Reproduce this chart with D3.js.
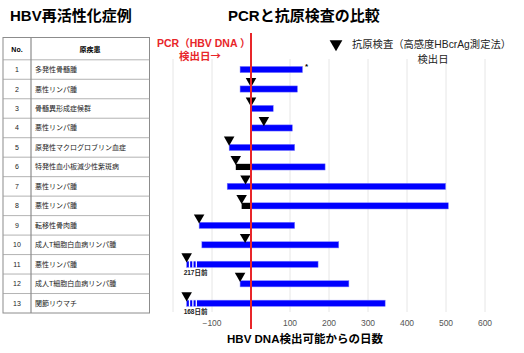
<!DOCTYPE html>
<html>
<head>
<meta charset="utf-8">
<script src="https://cdn.jsdelivr.net/npm/d3@7"></script>
<style>
body { margin: 0; background: #fff; }
svg { font-family: "Liberation Sans", "Noto Sans CJK JP", "Noto Sans", sans-serif; }
</style>
</head>
<body>
<div class="chart"></div>
<script>

var width = 524, height = 353;

// table
var caseNo = [1, 2, 3, 4, 5, 6, 7, 8, 9, 10, 11, 12, 13];
var disease = ["多発性骨髄腫", "悪性リンパ腫", "骨髄異形成症候群", "悪性リンパ腫",
	"原発性マクログロブリン血症", "特発性血小板減少性紫斑病", "悪性リンパ腫", "悪性リンパ腫",
	"転移性骨肉腫", "成人T細胞白血病リンパ腫", "悪性リンパ腫", "成人T細胞白血病リンパ腫", "関節リウマチ"];

// days from HBV DNA detection
var barStart = [-28, -28, 0, 0, -56, 0, -61, 0, -133, -126, -139, -28, -139];
var barEnd = [132, 119, 57, 106, 112, 190, 499, 506, 112, 225, 172, 251, 344];
var blackStart = [null, null, null, null, null, -39, null, -24, null, null, null, null, null];
var antigenDay = [null, 0, 0, 33, -56, -39, -14, -24, -133, -15, -165, -28, -165];
var brokenStart = [null, null, null, null, null, null, null, null, null, null, -165, null, -165];
var brokenLabel = [null, null, null, null, null, null, null, null, null, null, "217日前", null, "168日前"];

var gridTicks = [-200, -100, 0, 100, 200, 300, 400, 500, 600];
var labelTicks = [-100, 100, 200, 300, 400, 500, 600];

var svg = d3.select(".chart")
	.append("svg")
	.attr("width", width)
	.attr("height", height);

var x = d3.scaleLinear()
	.domain([-200, 600])
	.range([173, 485]);

var y = d3.scaleBand()
	.domain(caseNo)
	.range([59.8, 313])
	.paddingInner(0)
	.paddingOuter(0);

// titles
svg.append("text")
	.attr("x", 10).attr("y", 21)
	.style("font-size", "15px").style("font-weight", "bold")
	.text("HBV再活性化症例");

svg.append("text")
	.attr("x", 228).attr("y", 21)
	.style("font-size", "15px").style("font-weight", "bold")
	.text("PCRと抗原検査の比較");

// table
var tbl = svg.append("g");
tbl.append("rect")
	.attr("x", 3).attr("y", 37.5)
	.attr("width", 146.5).attr("height", 313 - 37.5)
	.attr("fill", "#fff").attr("stroke", "#8c8c8c").attr("stroke-width", 1);

tbl.selectAll(".hline")
	.data(caseNo)
	.enter()
	.append("line")
	.attr("x1", 3).attr("x2", 149.5)
	.attr("y1", function(d) { return y(d); })
	.attr("y2", function(d) { return y(d); })
	.attr("stroke", "#a0a0a0").attr("stroke-width", 0.8);

tbl.append("line")
	.attr("x1", 31).attr("x2", 31)
	.attr("y1", 37.5).attr("y2", 313)
	.attr("stroke", "#8c8c8c").attr("stroke-width", 1.2);

tbl.append("text")
	.attr("x", 17).attr("y", 51.5)
	.attr("text-anchor", "middle")
	.style("font-size", "7px").style("font-weight", "bold")
	.text("No.");

tbl.append("text")
	.attr("x", 90).attr("y", 51.5)
	.attr("text-anchor", "middle")
	.style("font-size", "7px").style("font-weight", "bold")
	.text("原疾患");

tbl.selectAll(".no")
	.data(caseNo)
	.enter()
	.append("text")
	.attr("x", 17)
	.attr("y", function(d) { return y(d) + y.bandwidth() / 2 + 2.5; })
	.attr("text-anchor", "middle")
	.style("font-size", "7px").attr("fill", "#222")
	.text(function(d) { return d; });

tbl.selectAll(".dis")
	.data(disease)
	.enter()
	.append("text")
	.attr("x", 35)
	.attr("y", function(d, i) { return y(caseNo[i]) + y.bandwidth() / 2 + 2.5; })
	.style("font-size", "7px").attr("fill", "#222")
	.text(function(d) { return d; });

// grid
svg.selectAll(".grid")
	.data(gridTicks)
	.enter()
	.append("line")
	.attr("x1", function(d) { return x(d); })
	.attr("x2", function(d) { return x(d); })
	.attr("y1", 59).attr("y2", 312)
	.attr("stroke", "#e6e6e6").attr("stroke-width", 1);

svg.selectAll(".tick-label")
	.data(labelTicks)
	.enter()
	.append("text")
	.attr("x", function(d) { return x(d); })
	.attr("y", 326)
	.attr("text-anchor", "middle")
	.style("font-size", "8.5px").attr("fill", "#555")
	.text(function(d) { return d < 0 ? "\u2212" + Math.abs(d) : d; });

// bars
var rows = caseNo.map(function(d, i) {
	return { no: d, start: barStart[i], end: barEnd[i], black: blackStart[i],
		ag: antigenDay[i], broken: brokenStart[i], label: brokenLabel[i] };
});

var barH = 6.2;
function barY(d) { return y(d.no) + y.bandwidth() / 2 - barH / 2; }

svg.append("g")
	.selectAll("rect")
	.data(rows)
	.enter()
	.append("rect")
	.attr("x", function(d) { return x(d.broken != null ? d.broken : d.start); })
	.attr("y", barY)
	.attr("width", function(d) { return x(d.end) - x(d.broken != null ? d.broken : d.start); })
	.attr("height", barH)
	.attr("fill", "#0000ff")
	.attr("stroke", "#7f7fff").attr("stroke-width", 0.5);

svg.append("g")
	.selectAll("rect")
	.data(rows.filter(function(d) { return d.black != null; }))
	.enter()
	.append("rect")
	.attr("x", function(d) { return x(d.black); })
	.attr("y", barY)
	.attr("width", function(d) { return x(0) - x(d.black); })
	.attr("height", barH)
	.attr("fill", "#000");

// break marks on the long bars
var brokenRows = rows.filter(function(d) { return d.broken != null; });
brokenRows.forEach(function(d) {
	var x0 = x(d.broken);
	[2.2, 5.6, 9.0].forEach(function(off) {
		svg.append("rect")
			.attr("x", x0 + off).attr("y", barY(d) - 0.3)
			.attr("width", 1.3).attr("height", barH + 0.6)
			.attr("fill", "#fff");
	});
	svg.append("text")
		.attr("x", x0 - 3).attr("y", barY(d) + barH + 8)
		.style("font-size", "6.5px").style("font-weight", "bold").attr("fill", "#222")
		.text(d.label);
});

// antigen detection markers
var tri = d3.symbol().type(d3.symbolTriangle).size(48);
svg.append("g")
	.selectAll("path")
	.data(rows.filter(function(d) { return d.ag != null; }))
	.enter()
	.append("path")
	.attr("d", tri)
	.attr("transform", function(d) { return "translate(" + x(d.ag) + "," + (barY(d) - 4.8) + ") rotate(180)"; })
	.attr("fill", "#000");

svg.append("text")
	.attr("x", x(barEnd[0]) + 2.5).attr("y", barY(rows[0]) + 3)
	.style("font-size", "8px").style("font-weight", "bold")
	.text("*");

// PCR line
svg.append("line")
	.attr("x1", x(0)).attr("x2", x(0))
	.attr("y1", 33).attr("y2", 329)
	.attr("stroke", "#e8262a").attr("stroke-width", 2);

svg.append("text")
	.attr("x", 157).attr("y", 46.5)
	.style("font-size", "10.5px").style("font-weight", "bold").attr("fill", "#e8262a")
	.text("PCR（HBV DNA ）");

var pcrSub = svg.append("text")
	.attr("x", 200).attr("y", 60)
	.attr("text-anchor", "middle")
	.style("font-size", "10.5px").style("font-weight", "bold").attr("fill", "#e8262a");
pcrSub.append("tspan").text("検出日");
pcrSub.append("tspan").style("font-family", "'Noto Sans CJK JP'").text("→");

// legend
svg.append("path")
	.attr("d", d3.symbol().type(d3.symbolTriangle).size(70))
	.attr("transform", "translate(336,44) rotate(180)")
	.attr("fill", "#000");

svg.append("text")
	.attr("x", 352).attr("y", 48)
	.style("font-size", "10.3px").attr("fill", "#222")
	.text("抗原検査（高感度HBcrAg測定法）");

svg.append("text")
	.attr("x", 433).attr("y", 63)
	.attr("text-anchor", "middle")
	.style("font-size", "10.3px").attr("fill", "#222")
	.text("検出日");

svg.append("text")
	.attr("x", 305).attr("y", 343)
	.attr("text-anchor", "middle")
	.style("font-size", "11.5px").style("font-weight", "bold")
	.text("HBV DNA検出可能からの日数");

</script>
</body>
</html>
